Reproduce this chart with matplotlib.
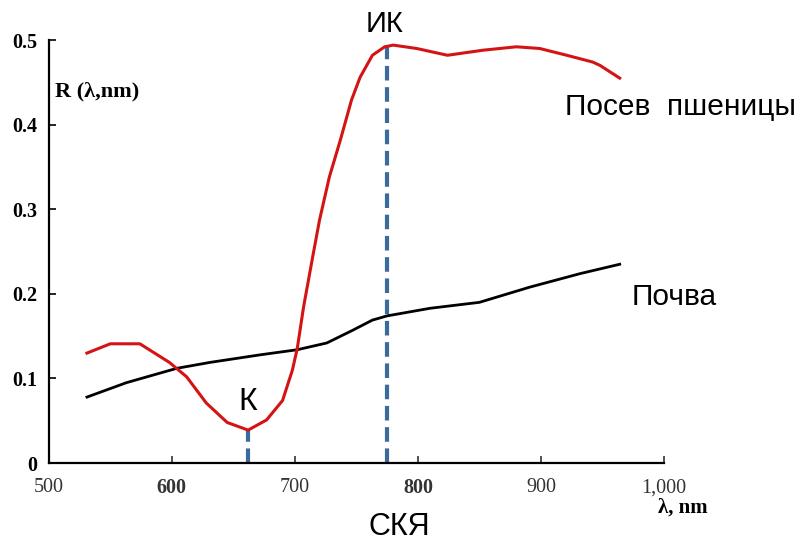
import matplotlib.pyplot as plt

# Wheat crop reflectance (red curve)
wheat_nm = [531, 550, 574, 598, 612, 628, 645, 662, 677, 690, 698, 702, 707, 714,
            720, 728, 737, 746, 753, 763, 773, 780, 799, 824, 853, 880, 899, 921,
            942, 948, 964]
wheat_r = [0.130, 0.141, 0.141, 0.119, 0.102, 0.071, 0.048, 0.039, 0.051, 0.074,
           0.110, 0.136, 0.184, 0.240, 0.287, 0.338, 0.382, 0.429, 0.456, 0.482,
           0.492, 0.494, 0.490, 0.482, 0.488, 0.492, 0.490, 0.482, 0.474, 0.470,
           0.455]

# Soil reflectance (black curve)
soil_nm = [531, 563, 604, 631, 672, 702, 726, 747, 763, 775, 810, 850, 891, 932, 964]
soil_r = [0.078, 0.095, 0.112, 0.119, 0.128, 0.134, 0.142, 0.157, 0.169, 0.174,
          0.183, 0.190, 0.208, 0.224, 0.235]

# Marker lines: red band minimum and NIR peak
marker_nm = [662, 775]
marker_r = [0.039, 0.494]

x_ticks = [500, 600, 700, 800, 900, 1000]
x_labels = ['500', '600', '700', '800', '900', '1,000']
x_weights = ['normal', 'bold', 'normal', 'bold', 'normal', 'normal']
y_ticks = [0, 0.1, 0.2, 0.3, 0.4, 0.5]
y_labels = ['0', '0.1', '0.2', '0.3', '0.4', '0.5']

fig = plt.figure(figsize=(8, 5.41), dpi=100)
ax = fig.add_axes([0.061, 0.144, 0.769, 0.782])

for x, y in zip(marker_nm, marker_r):
    ax.plot([x, x], [0, y], color='#3a6b9c', lw=3, dashes=(3.5, 1.6), zorder=1)

ax.plot(soil_nm, soil_r, color='black', lw=2, zorder=2)
ax.plot(wheat_nm, wheat_r, color='#d41414', lw=2.2, zorder=3)

ax.set_xlim(500, 1000)
ax.set_ylim(0, 0.5)
for s in ['top', 'right']:
    ax.spines[s].set_visible(False)
for s in ['left', 'bottom']:
    ax.spines[s].set_linewidth(1.6)

ax.set_xticks(x_ticks)
ax.set_xticklabels(x_labels, family='Liberation Serif', fontsize=14.5)
for lab, w in zip(ax.get_xticklabels(), x_weights):
    lab.set_fontweight(w)
ax.set_yticks(y_ticks)
ax.set_yticklabels(y_labels, family='Liberation Serif', fontsize=14.5, fontweight='bold')
ax.tick_params(axis='x', direction='in', length=5, width=1.2, pad=11, colors='#333333')
ax.tick_params(axis='y', direction='in', length=5, width=1.2, pad=8)

# Annotations (in pixel-derived figure coordinates)
sans = 'Liberation Sans'
fig.text(55 / 800, 1 - 91 / 541, 'R (λ,nm)', family='Liberation Serif', fontweight='bold',
         fontsize=16, va='center', ha='left')
fig.text(683 / 800, 1 - 508 / 541, 'λ, nm', family='Liberation Serif', fontweight='bold',
         fontsize=15, va='center', ha='center')
fig.text(385 / 800, 1 - 24 / 541, 'ИК', family=sans, fontsize=21, ha='center', va='center')
fig.text(248 / 800, 1 - 402 / 541, 'К', family=sans, fontsize=23, ha='center', va='center')
fig.text(565 / 800, 1 - 107 / 541, 'Посев  пшеницы', family=sans, fontsize=21.5,
         ha='left', va='center')
fig.text(632 / 800, 1 - 297 / 541, 'Почва', family=sans, fontsize=21.5, ha='left', va='center')
fig.text(399 / 800, 1 - 527 / 541, 'СКЯ', family=sans, fontsize=22, ha='center', va='center')

fig.savefig('out.png', dpi=100)
